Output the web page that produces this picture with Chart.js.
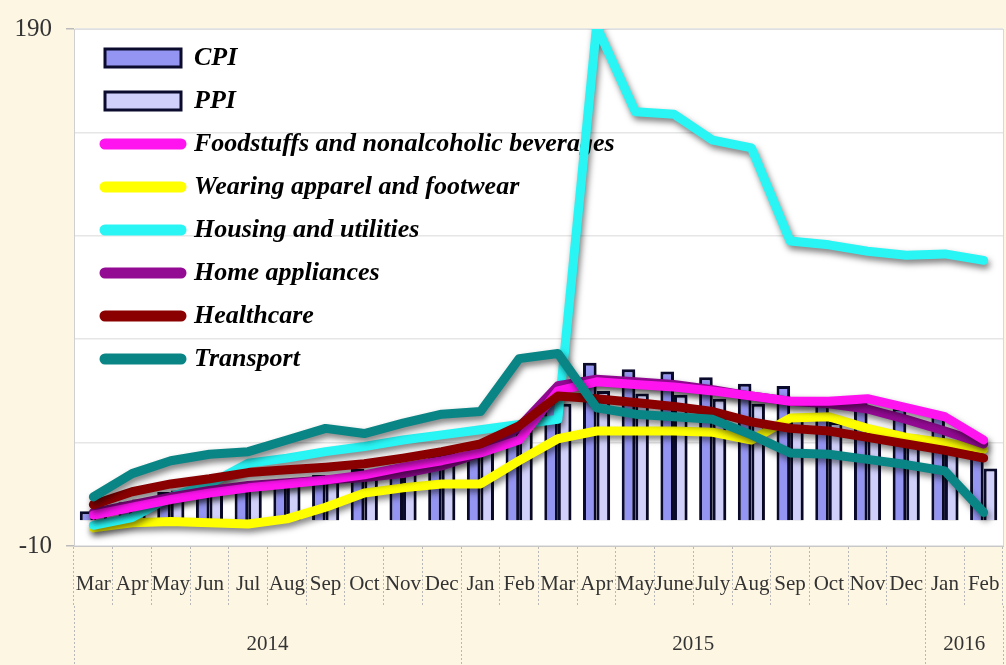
<!DOCTYPE html>
<html>
<head>
<meta charset="utf-8">
<script src="https://cdn.jsdelivr.net/npm/chart.js@4.4.1/dist/chart.umd.min.js"></script>
<style>
  html, body { margin: 0; padding: 0; background: #fdf6e3; }
  #wrap { width: 1006px; height: 665px; }
</style>
</head>
<body>
<div id="wrap"><canvas id="grafico" width="1006" height="665"></canvas></div>
<script>
// months Mar 2014 .. Feb 2016
const months = ['Mar','Apr','May','Jun','Jul','Aug','Sep','Oct','Nov','Dec','Jan','Feb',
                'Mar','Apr','May','June','July','Aug','Sep','Oct','Nov','Dec','Jan','Feb'];
const years = ['2014', '2015', '2016'];
const monthsInYear = [10, 12, 2];

const cpi        = [3.4, 6.9, 10.9, 12, 12.6, 14.2, 17.5, 19.8, 21.2, 24.9, 28.5, 34.5, 45.8, 60.9, 58.4, 57.5, 55.3, 52.8, 51.9, 46.4, 45.8, 43.3, 40.3, 32.7];
const ppi        = [4.5, 8, 11.5, 12.5, 13, 15, 17, 19, 21, 26, 31, 36, 45, 50, 49, 48.5, 47, 45, 41, 38, 36, 33, 29, 20];
const food       = [2, 5, 8, 10.5, 12.5, 14, 15.5, 17.5, 20.5, 23, 26, 31, 50, 53.5, 52.5, 51.5, 50, 48, 46, 46, 47, 43.5, 40, 31];
const apparel    = [-3, -1, -0.5, -1, -1.5, 0.5, 5, 10.5, 12.5, 14, 14, 23, 31.5, 34.5, 34.5, 34.5, 34, 31, 39.5, 40, 35.5, 32, 30, 27.5];
const housing    = [-2, 1, 9, 14, 22, 24, 26.5, 28.5, 31, 33, 35, 37, 39, 191, 158, 157, 147, 144, 108, 106.5, 104, 102.5, 103, 100.5];
const appliances = [3, 6, 9, 11.5, 13.4, 14.5, 15.5, 16.5, 18, 21, 26, 36, 52, 54.5, 53.5, 52.5, 50.5, 48, 46, 45, 43, 39, 34.5, 29.5];
const health     = [6, 11, 14, 16, 18.4, 19.5, 20.5, 21.8, 24, 26.5, 29.5, 36.5, 48, 47, 45.5, 44, 42, 38, 35.5, 34.5, 32, 29.5, 27, 24];
const transport  = [9, 18, 23, 25.5, 26.5, 31, 35.5, 33.5, 37.5, 41, 42, 62.5, 64.5, 43.5, 41, 40, 39, 33, 26, 25.5, 23.5, 21.5, 19, 3];

// year row: boundaries and centres on a -0.5..23.5 scale
const yearBounds = [-0.5];
const yearCentres = {};
monthsInYear.forEach((n, i) => {
  const start = yearBounds[yearBounds.length - 1];
  yearCentres[start + n / 2] = years[i];
  yearBounds.push(start + n);
});

const serif = 'Liberation Serif, Times New Roman, serif';

function linha(label, data, color, order) {
  return {
    type: 'line', label, data, order,
    borderColor: color, backgroundColor: color,
    borderWidth: 9, pointRadius: 0, tension: 0,
    borderJoinStyle: 'round', borderCapStyle: 'round'
  };
}

// white plot area + shadows under the lines
const fundo = {
  id: 'fundo',
  beforeDraw(chart) {
    const { ctx, chartArea: a } = chart;
    ctx.save();
    ctx.fillStyle = '#fdf6e3';
    ctx.fillRect(0, 0, chart.width, chart.height);
    ctx.fillStyle = '#ffffff';
    ctx.fillRect(a.left, a.top, a.right - a.left, a.bottom - a.top);
    ctx.strokeStyle = '#d8d8d8';
    ctx.lineWidth = 1;
    ctx.strokeRect(a.left + 0.5, a.top + 0.5, a.right - a.left, a.bottom - a.top);
    ctx.restore();
  },
  afterLayout(chart) {
    chart.legend.left += 14;
    chart.legend.right += 14;
    chart.legend.top += 28;
    chart.legend.bottom += 28;
  },
  beforeDatasetDraw(chart, args) {
    const ctx = chart.ctx;
    ctx.save();
    if (args.meta.type === 'line') {
      ctx.shadowColor = 'rgba(0,0,0,0.5)';
      ctx.shadowBlur = 6;
      ctx.shadowOffsetX = 2;
      ctx.shadowOffsetY = 4;
    } else {
      ctx.shadowColor = 'rgba(0,0,0,0.3)';
      ctx.shadowBlur = 4;
      ctx.shadowOffsetX = 2;
      ctx.shadowOffsetY = 2;
    }
  },
  afterDatasetDraw(chart) {
    chart.ctx.restore();
  }
};

const gridCor = '#b8b8b8';

new Chart(document.getElementById('grafico'), {
  data: {
    labels: months,
    datasets: [
      { type: 'bar', label: 'CPI', data: cpi, order: 10,
        backgroundColor: '#9494f2', borderColor: '#0b0b2e', borderWidth: 3,
        categoryPercentage: 0.7, barPercentage: 1 },
      { type: 'bar', label: 'PPI', data: ppi, order: 10,
        backgroundColor: '#d0d0fa', borderColor: '#0b0b2e', borderWidth: 3,
        categoryPercentage: 0.7, barPercentage: 1 },
      linha('Foodstuffs and nonalcoholic beverages', food, '#ff14f0', 5),
      linha('Wearing apparel and footwear', apparel, '#ffff00', 8),
      linha('Housing and utilities', housing, '#2af5f5', 7),
      linha('Home appliances', appliances, '#930a93', 6),
      linha('Healthcare', health, '#8a0000', 4),
      linha('Transport', transport, '#0a8585', 3)
    ]
  },
  options: {
    responsive: false,
    devicePixelRatio: 1,
    animation: false,
    layout: { padding: { top: 24, right: 3, left: 0, bottom: 0 } },
    plugins: {
      tooltip: { enabled: false },
      legend: {
        position: 'chartArea',
        align: 'start',
        labels: {
          usePointStyle: true,
          pointStyleWidth: 76,
          boxHeight: 18,
          padding: 17,
          color: '#000',
          font: { family: serif, size: 26, style: 'italic', weight: 'bold' },
          generateLabels: (chart) => chart.data.datasets.map((ds, i) => ({
            text: ds.label,
            datasetIndex: i,
            fillStyle: ds.type === 'line' ? ds.borderColor : ds.backgroundColor,
            strokeStyle: ds.borderColor,
            lineWidth: ds.type === 'line' ? 11 : 3,
            lineCap: 'round',
            pointStyle: ds.type === 'line' ? 'line' : 'rect',
            hidden: false,
            fontColor: '#000'
          }))
        }
      }
    },
    scales: {
      x: {
        type: 'category',
        position: 'bottom',
        weight: 0,
        offset: true,
        afterFit: (s) => { s.height = 60; },
        border: { color: '#c8c8c8' },
        grid: {
          offset: true, drawOnChartArea: false, tickLength: 60,
          color: gridCor, tickBorderDash: [2, 2]
        },
        ticks: {
          autoSkip: false, maxRotation: 0, minRotation: 0, padding: -34,
          color: '#333', font: { family: serif, size: 21 }
        }
      },
      xYear: {
        type: 'linear',
        position: 'bottom',
        weight: 1,
        min: -0.5,
        max: 23.5,
        bounds: 'data',
        afterFit: (s) => { s.height = 59; },
        afterBuildTicks: (s) => {
          const vals = yearBounds.concat(Object.keys(yearCentres).map(Number)).sort((a, b) => a - b);
          s.ticks = vals.map(v => ({ value: v }));
        },
        border: { display: false },
        grid: {
          drawOnChartArea: false, tickLength: 59, tickBorderDash: [2, 2],
          color: (c) => (c.tick && yearBounds.includes(c.tick.value)) ? gridCor : 'rgba(0,0,0,0)'
        },
        ticks: {
          autoSkip: false, maxRotation: 0, padding: -33,
          color: '#333', font: { family: serif, size: 21 },
          callback: (v) => yearCentres[v] || ''
        }
      },
      y: {
        min: -10,
        max: 190,
        afterFit: (s) => { s.width = 74; },
        border: { color: '#d0d0d0' },
        grid: {
          color: '#e6e6e6', lineWidth: 1.5, tickLength: 8,
          tickColor: (c) => (c.tick && (c.tick.value === -10 || c.tick.value === 190)) ? '#bbb' : 'rgba(0,0,0,0)'
        },
        ticks: {
          stepSize: 40, padding: 14, color: '#333',
          font: { family: serif, size: 25 },
          callback: (v) => (v === -10 || v === 190) ? v : ''
        }
      }
    }
  },
  plugins: [fundo]
});
</script>
</body>
</html>
